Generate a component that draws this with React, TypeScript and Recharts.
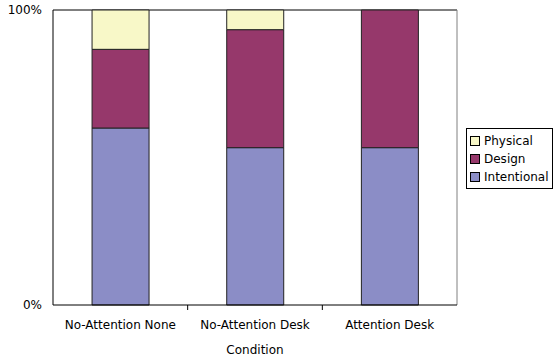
import { Bar, BarChart, CartesianGrid, Legend, Text, XAxis, YAxis } from 'recharts';

// Responses per condition (15 each), drawn as 100% stacks
const conditions = ['No-Attention None', 'No-Attention Desk', 'Attention Desk'];
const intentional = [9, 8, 8];
const design = [4, 6, 7];
const physical = [2, 1, 0];

const percentTicks = [0, 1];

const series = [
  { key: 'Intentional', values: intentional, color: '#8b8dc6' },
  { key: 'Design', values: design, color: '#96386b' },
  { key: 'Physical', values: physical, color: '#f8f8c8' },
];

const data = conditions.map((name, i) => {
  const row: Record<string, string | number> = { name };
  series.forEach((s) => {
    row[s.key] = s.values[i];
  });
  return row;
});

const font = 'DejaVu Sans, sans-serif';
const LABEL_GAP = 15;
const MARK_LEN = 5;

type GridArgs = { offset: { top: number; left: number; width: number } };

type TickProps = {
  x: number;
  y: number;
  index: number;
  visibleTicksCount: number;
  payload: { value: string; offset: number };
};

// category label plus a small mark on the boundary to the right of it
function CategoryTick({ x, y, index, visibleTicksCount, payload }: TickProps) {
  const edge = x + payload.offset;
  const axisY = y - LABEL_GAP;
  return (
    <g>
      {index < visibleTicksCount - 1 && (
        <line x1={edge} x2={edge} y1={axisY} y2={axisY + MARK_LEN} stroke="#000" />
      )}
      <Text x={x} y={y} textAnchor="middle" verticalAnchor="start" fill="#000" fontSize={12}>
        {payload.value}
      </Text>
    </g>
  );
}

function LegendBox() {
  return (
    <div
      style={{
        border: '1px solid #000',
        padding: '3px 3px 2px 3px',
        background: '#fff',
        fontFamily: font,
        fontSize: 12,
        lineHeight: '18px',
        color: '#000',
      }}
    >
      {[...series].reverse().map((s) => (
        <div key={s.key} style={{ display: 'flex', alignItems: 'center' }}>
          <span
            style={{
              display: 'inline-block',
              width: 8,
              height: 8,
              border: '1px solid #000',
              background: s.color,
              marginRight: 4,
            }}
          />
          {s.key}
        </div>
      ))}
    </div>
  );
}

export default function App() {
  return (
    <div style={{ position: 'absolute', left: 0, top: 0, fontFamily: font }}>
      <BarChart
        width={557}
        height={358}
        data={data}
        stackOffset="expand"
        barCategoryGap="29%"
        margin={{ top: 10, right: 100, bottom: 0, left: 0 }}
      >
        {/* plot frame: black top edge, grey right edge */}
        <CartesianGrid
          vertical={false}
          stroke="#000"
          horizontalCoordinatesGenerator={({ offset }: GridArgs) => [offset.top]}
        />
        <CartesianGrid
          horizontal={false}
          stroke="#808080"
          verticalCoordinatesGenerator={({ offset }: GridArgs) => [offset.left + offset.width]}
        />
        <XAxis
          dataKey="name"
          height={53}
          tickLine={false}
          tickSize={0}
          tickMargin={LABEL_GAP}
          axisLine={{ stroke: '#000' }}
          tick={(props: TickProps) => <CategoryTick {...props} />}
          label={{ value: 'Condition', position: 'insideBottom', offset: 4, fill: '#000', fontSize: 12 }}
        />
        <YAxis
          width={53}
          domain={[0, 1]}
          ticks={percentTicks}
          tickFormatter={(v: number) => `${v * 100}%`}
          tickLine={false}
          tickSize={0}
          tickMargin={11}
          axisLine={{ stroke: '#000' }}
          tick={{ fill: '#000', fontSize: 12 }}
        />
        {series.map((s) => (
          <Bar
            key={s.key}
            dataKey={s.key}
            stackId="a"
            fill={s.color}
            stroke="#222"
            strokeWidth={1}
            isAnimationActive={false}
          />
        ))}
        <Legend
          layout="horizontal"
          verticalAlign="middle"
          align="center"
          content={<LegendBox />}
          wrapperStyle={{ position: 'absolute', left: 466, top: 128, width: 'auto' }}
        />
      </BarChart>
    </div>
  );
}
